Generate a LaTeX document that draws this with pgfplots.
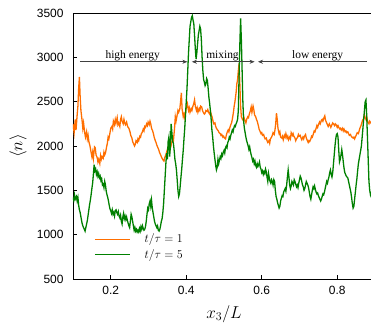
\documentclass[border=0pt]{standalone}
\usepackage{pgfplots}
\usepackage{pgfplotstable}
\pgfplotsset{compat=1.18}
\usetikzlibrary{arrows.meta}
\usepackage{fontspec}
\setmainfont{Liberation Serif}
\newfontfamily\tickfont{Liberation Sans}
\definecolor{orng}{RGB}{255,110,0}
\definecolor{grn}{RGB}{0,128,0}

\pgfplotstableread{
x y
0.100 2250
0.103 2150
0.106 2300
0.108 2180
0.111 2350
0.113 2450
0.115 2650
0.117 2780
0.119 2550
0.121 2400
0.124 2290
0.126 2200
0.128 2260
0.131 2150
0.133 2100
0.136 2160
0.138 2080
0.140 2120
0.142 2050
0.145 2000
0.147 1950
0.150 1880
0.152 1930
0.154 1860
0.157 1990
0.159 1980
0.161 1900
0.164 1870
0.166 1820
0.168 1850
0.171 1800
0.173 1890
0.175 1850
0.177 1880
0.180 1860
0.182 1930
0.184 1900
0.186 1920
0.189 1990
0.191 2030
0.193 2100
0.195 2080
0.198 2150
0.200 2200
0.203 2220
0.205 2190
0.207 2280
0.210 2240
0.212 2300
0.214 2260
0.217 2320
0.219 2240
0.221 2260
0.224 2220
0.226 2300
0.228 2330
0.230 2280
0.233 2250
0.235 2300
0.237 2260
0.239 2240
0.242 2270
0.244 2230
0.246 2210
0.248 2200
0.251 2160
0.253 2120
0.256 2090
0.258 2050
0.260 2030
0.263 2000
0.265 2020
0.267 2060
0.270 2040
0.272 2080
0.274 2060
0.277 2110
0.279 2100
0.281 2140
0.283 2150
0.286 2190
0.288 2170
0.290 2220
0.292 2210
0.295 2250
0.297 2230
0.299 2270
0.302 2240
0.304 2280
0.306 2250
0.308 2200
0.311 2170
0.313 2140
0.315 2100
0.318 2060
0.320 2040
0.322 2010
0.325 1980
0.327 1960
0.329 1930
0.332 1900
0.334 1880
0.336 1860
0.339 1840
0.341 1830
0.343 1870
0.346 1900
0.348 1930
0.350 1960
0.352 1990
0.355 2020
0.357 1960
0.359 1990
0.362 2050
0.364 2080
0.366 2060
0.369 2200
0.371 2330
0.373 2280
0.376 2350
0.378 2400
0.380 2380
0.383 2420
0.385 2500
0.387 2600
0.389 2420
0.392 2330
0.394 2360
0.396 2320
0.399 2400
0.401 2450
0.403 2480
0.406 2400
0.408 2430
0.410 2380
0.413 2420
0.415 2400
0.417 2440
0.420 2480
0.422 2520
0.424 2450
0.427 2400
0.429 2430
0.431 2380
0.434 2420
0.436 2400
0.438 2450
0.441 2440
0.443 2400
0.445 2380
0.448 2360
0.450 2370
0.452 2400
0.455 2390
0.457 2410
0.459 2380
0.462 2360
0.464 2390
0.466 2360
0.469 2320
0.471 2280
0.473 2250
0.476 2260
0.478 2220
0.480 2200
0.483 2180
0.485 2170
0.487 2150
0.490 2140
0.492 2120
0.494 2130
0.497 2100
0.499 2110
0.501 2090
0.504 2080
0.506 2120
0.508 2150
0.511 2180
0.513 2160
0.515 2200
0.518 2240
0.520 2260
0.522 2300
0.525 2380
0.527 2450
0.529 2500
0.532 2600
0.534 2700
0.536 2750
0.538 2850
0.540 2930
0.542 2700
0.544 2450
0.546 2330
0.549 2300
0.551 2290
0.553 2320
0.556 2280
0.558 2260
0.560 2300
0.563 2330
0.565 2320
0.567 2360
0.570 2400
0.572 2440
0.574 2380
0.577 2450
0.579 2410
0.581 2350
0.584 2330
0.586 2300
0.588 2280
0.591 2230
0.593 2190
0.595 2170
0.598 2140
0.600 2150
0.602 2120
0.605 2130
0.607 2100
0.609 2080
0.612 2090
0.614 2060
0.616 2040
0.619 2060
0.621 2030
0.623 2080
0.626 2100
0.628 2120
0.630 2150
0.633 2130
0.635 2180
0.637 2250
0.639 2370
0.641 2300
0.643 2200
0.646 2140
0.648 2160
0.650 2100
0.653 2090
0.655 2110
0.657 2070
0.660 2120
0.662 2100
0.664 2140
0.667 2090
0.669 2110
0.671 2070
0.674 2100
0.676 2080
0.678 2150
0.681 2120
0.683 2140
0.685 2110
0.688 2090
0.690 2060
0.692 2080
0.695 2100
0.697 2130
0.699 2110
0.702 2120
0.704 2090
0.706 2070
0.709 2100
0.711 2080
0.713 2110
0.716 2130
0.718 2090
0.720 2070
0.723 2040
0.725 2060
0.727 2050
0.730 2080
0.732 2110
0.734 2100
0.737 2140
0.739 2170
0.741 2160
0.744 2200
0.746 2230
0.748 2210
0.751 2250
0.753 2270
0.755 2250
0.758 2290
0.760 2300
0.762 2280
0.765 2320
0.767 2340
0.769 2290
0.772 2260
0.774 2240
0.776 2220
0.779 2250
0.781 2230
0.783 2210
0.786 2240
0.788 2260
0.790 2250
0.793 2230
0.795 2250
0.797 2240
0.800 2210
0.802 2230
0.804 2210
0.807 2190
0.809 2200
0.811 2180
0.814 2200
0.816 2170
0.818 2190
0.821 2160
0.823 2170
0.825 2150
0.828 2160
0.830 2140
0.832 2120
0.835 2130
0.837 2110
0.839 2100
0.842 2090
0.844 2100
0.846 2080
0.849 2110
0.851 2130
0.853 2150
0.856 2140
0.858 2170
0.860 2200
0.863 2230
0.865 2260
0.867 2290
0.870 2310
0.872 2350
0.874 2320
0.877 2290
0.879 2310
0.881 2270
0.884 2250
0.886 2280
0.889 2260
0.891 2270
}\orangedata

\pgfplotstableread{
x y
0.100 1420
0.102 1390
0.104 1450
0.106 1400
0.109 1430
0.111 1380
0.113 1420
0.115 1330
0.117 1280
0.119 1250
0.121 1200
0.124 1130
0.126 1100
0.128 1080
0.130 1060
0.132 1040
0.134 1080
0.136 1120
0.138 1160
0.140 1220
0.142 1280
0.144 1340
0.146 1390
0.148 1450
0.150 1520
0.152 1580
0.154 1680
0.156 1790
0.158 1720
0.160 1740
0.162 1680
0.164 1710
0.166 1660
0.168 1690
0.170 1640
0.172 1660
0.174 1610
0.176 1630
0.178 1560
0.180 1570
0.182 1530
0.184 1600
0.186 1560
0.188 1490
0.190 1450
0.192 1420
0.194 1380
0.196 1330
0.198 1290
0.200 1270
0.202 1240
0.204 1280
0.206 1230
0.208 1250
0.210 1210
0.212 1270
0.214 1280
0.216 1250
0.218 1230
0.220 1260
0.222 1210
0.224 1190
0.226 1220
0.228 1150
0.230 1120
0.232 1200
0.234 1240
0.236 1180
0.238 1210
0.240 1170
0.242 1200
0.244 1160
0.246 1130
0.248 1100
0.250 1080
0.252 1150
0.254 1230
0.256 1200
0.258 1150
0.260 1100
0.262 1050
0.264 1080
0.266 1040
0.268 1060
0.270 1030
0.272 1050
0.274 1030
0.276 1070
0.278 1040
0.280 1090
0.282 1060
0.284 1100
0.286 1070
0.288 1050
0.290 1060
0.292 1090
0.294 1150
0.296 1230
0.298 1300
0.300 1280
0.302 1350
0.304 1380
0.306 1320
0.308 1390
0.310 1300
0.312 1250
0.314 1200
0.316 1150
0.318 1120
0.320 1100
0.322 1080
0.324 1100
0.326 1050
0.328 1040
0.330 1060
0.332 1100
0.334 1150
0.336 1180
0.338 1250
0.340 1350
0.342 1500
0.344 1650
0.346 1800
0.348 1920
0.350 1850
0.352 2050
0.354 2100
0.356 1880
0.358 2000
0.360 2250
0.362 2150
0.364 2050
0.366 2030
0.368 1950
0.370 1850
0.372 1800
0.374 1730
0.376 1620
0.378 1500
0.380 1430
0.382 1460
0.384 1550
0.386 1650
0.388 1740
0.390 1850
0.392 1950
0.394 2080
0.396 2200
0.398 2350
0.400 2500
0.402 2650
0.404 2850
0.406 3050
0.408 3200
0.410 3350
0.412 3400
0.414 3450
0.416 3470
0.418 3420
0.420 3380
0.422 3250
0.424 3100
0.426 2980
0.428 3050
0.430 3150
0.432 3250
0.434 3300
0.436 3350
0.438 3320
0.440 3200
0.442 3000
0.444 2850
0.446 2750
0.448 2720
0.450 2680
0.452 2700
0.454 2760
0.456 2740
0.458 2650
0.460 2550
0.462 2480
0.464 2400
0.466 2300
0.468 2180
0.470 2100
0.472 2000
0.474 1920
0.476 1850
0.478 1780
0.480 1730
0.482 1760
0.484 1850
0.486 1800
0.488 1840
0.490 1880
0.492 1860
0.494 1910
0.496 1890
0.498 1930
0.500 1950
0.502 1920
0.504 1980
0.506 2000
0.508 1980
0.510 2040
0.512 2060
0.514 2100
0.516 2080
0.518 2120
0.520 2150
0.522 2180
0.524 2160
0.526 2200
0.528 2230
0.530 2220
0.532 2250
0.534 2270
0.536 2300
0.538 2400
0.540 2800
0.542 3150
0.544 3440
0.546 3200
0.548 2850
0.550 2500
0.552 2280
0.554 2200
0.556 2150
0.558 2100
0.560 2060
0.562 2030
0.564 2000
0.566 1960
0.568 1990
0.570 1940
0.572 1900
0.574 1870
0.576 1830
0.578 1850
0.580 1800
0.582 1830
0.584 1780
0.586 1760
0.588 1800
0.590 1770
0.592 1790
0.594 1820
0.596 1760
0.598 1740
0.600 1700
0.602 1720
0.604 1680
0.606 1710
0.608 1690
0.610 1740
0.612 1710
0.614 1650
0.616 1600
0.618 1690
0.620 1640
0.622 1600
0.624 1580
0.626 1620
0.628 1600
0.630 1560
0.632 1620
0.634 1600
0.636 1500
0.638 1430
0.640 1400
0.642 1360
0.644 1330
0.646 1300
0.648 1320
0.650 1380
0.652 1410
0.654 1440
0.656 1430
0.658 1480
0.660 1500
0.662 1520
0.664 1490
0.666 1560
0.668 1650
0.670 1730
0.672 1650
0.674 1560
0.676 1520
0.678 1550
0.680 1600
0.682 1580
0.684 1560
0.686 1620
0.688 1600
0.690 1570
0.692 1540
0.694 1560
0.696 1530
0.698 1580
0.700 1620
0.702 1660
0.704 1640
0.706 1600
0.708 1560
0.710 1540
0.712 1500
0.714 1520
0.716 1560
0.718 1600
0.720 1580
0.722 1560
0.724 1530
0.726 1480
0.728 1430
0.730 1400
0.732 1450
0.734 1500
0.736 1540
0.738 1520
0.740 1550
0.742 1510
0.744 1480
0.746 1460
0.748 1470
0.750 1440
0.752 1420
0.754 1400
0.756 1380
0.758 1400
0.760 1430
0.762 1460
0.764 1450
0.766 1480
0.768 1520
0.770 1560
0.772 1600
0.774 1580
0.776 1620
0.778 1650
0.780 1700
0.782 1730
0.784 1680
0.786 1650
0.788 1700
0.790 1800
0.792 1900
0.794 2000
0.796 2080
0.798 2130
0.800 2140
0.802 2100
0.804 1950
0.806 1820
0.808 1850
0.810 1900
0.812 1960
0.814 1900
0.816 1820
0.818 1750
0.820 1700
0.822 1680
0.824 1660
0.826 1650
0.828 1640
0.830 1600
0.832 1560
0.834 1520
0.836 1480
0.838 1420
0.840 1350
0.842 1300
0.844 1320
0.846 1400
0.848 1480
0.850 1560
0.852 1630
0.854 1720
0.856 1800
0.858 1850
0.860 1900
0.862 1950
0.864 2000
0.866 2100
0.868 2200
0.870 2300
0.872 2400
0.874 2500
0.876 2520
0.878 2350
0.880 2100
0.882 1850
0.884 1600
0.886 1500
0.888 1450
0.890 1480
}\greendata

\begin{document}
\begin{tikzpicture}
\useasboundingbox (-73bp,-44bp) rectangle (298bp,279bp);
\begin{axis}[
  scale only axis,
  width=302bp, height=266bp,
  xmin=0.1, xmax=0.9,
  ymin=500, ymax=3500,
  xtick={0.2,0.4,0.6,0.8},
  xticklabels={0.2,0.4,0.6,0.8},
  ytick={500,1000,1500,2000,2500,3000,3500},
  yticklabels={500,1000,1500,2000,2500,3000,3500},
  xtick pos=bottom, ytick pos=left,
  tick align=inside,
  major tick length=4bp,
  axis line style={line width=1pt},
  every tick/.style={black, line width=0.8pt},
  ticklabel style={font=\tickfont\fontsize{12}{14}\selectfont},
  yticklabel style={xshift=-6bp},
  xticklabel style={yshift=-4bp},
  xlabel={$x_3/L$},
  ylabel={$\langle n\rangle$},
  label style={font=\fontsize{17}{20}\selectfont},
  xlabel style={at={(axis description cs:0.5,0)}, anchor=north, yshift=-23bp},
  ylabel style={at={(axis description cs:-0.182,0.5)}, anchor=center},
  legend style={draw=none, fill=none, at={(0.06,0.185)}, anchor=north west,
    font=\fontsize{12}{14}\selectfont, row sep=1bp, column sep=12bp},
  legend cell align=left,
  legend image code/.code={\draw[#1, line width=1.3pt] (0bp,0bp) -- (35bp,0bp);},
  clip=true,
]
\addplot[orng, line width=1.3pt] table {\orangedata};
\addlegendentry{$t/\tau=1$}
\addplot[grn, line width=1.3pt] table {\greendata};
\addlegendentry{$t/\tau=5$}

\draw[-{Stealth[length=5bp,width=4bp]}, line width=0.6pt, black!75] (axis cs:0.1185,2950) -- (axis cs:0.403,2950);
\draw[{Stealth[length=5bp,width=4bp]}-{Stealth[length=5bp,width=4bp]}, line width=0.6pt, black!75] (axis cs:0.415,2950) -- (axis cs:0.581,2950);
\draw[{Stealth[length=5bp,width=4bp]}-, line width=0.6pt, black!75] (axis cs:0.590,2950) -- (axis cs:0.879,2950);
\node[font=\fontsize{11.5}{13}\selectfont, anchor=base] at (axis cs:0.258,2990) {high energy};
\node[font=\fontsize{11.5}{13}\selectfont, anchor=base] at (axis cs:0.496,2990) {mixing};
\node[font=\fontsize{11.5}{13}\selectfont, anchor=base] at (axis cs:0.748,2990) {low energy};
\end{axis}
\end{tikzpicture}
\end{document}
